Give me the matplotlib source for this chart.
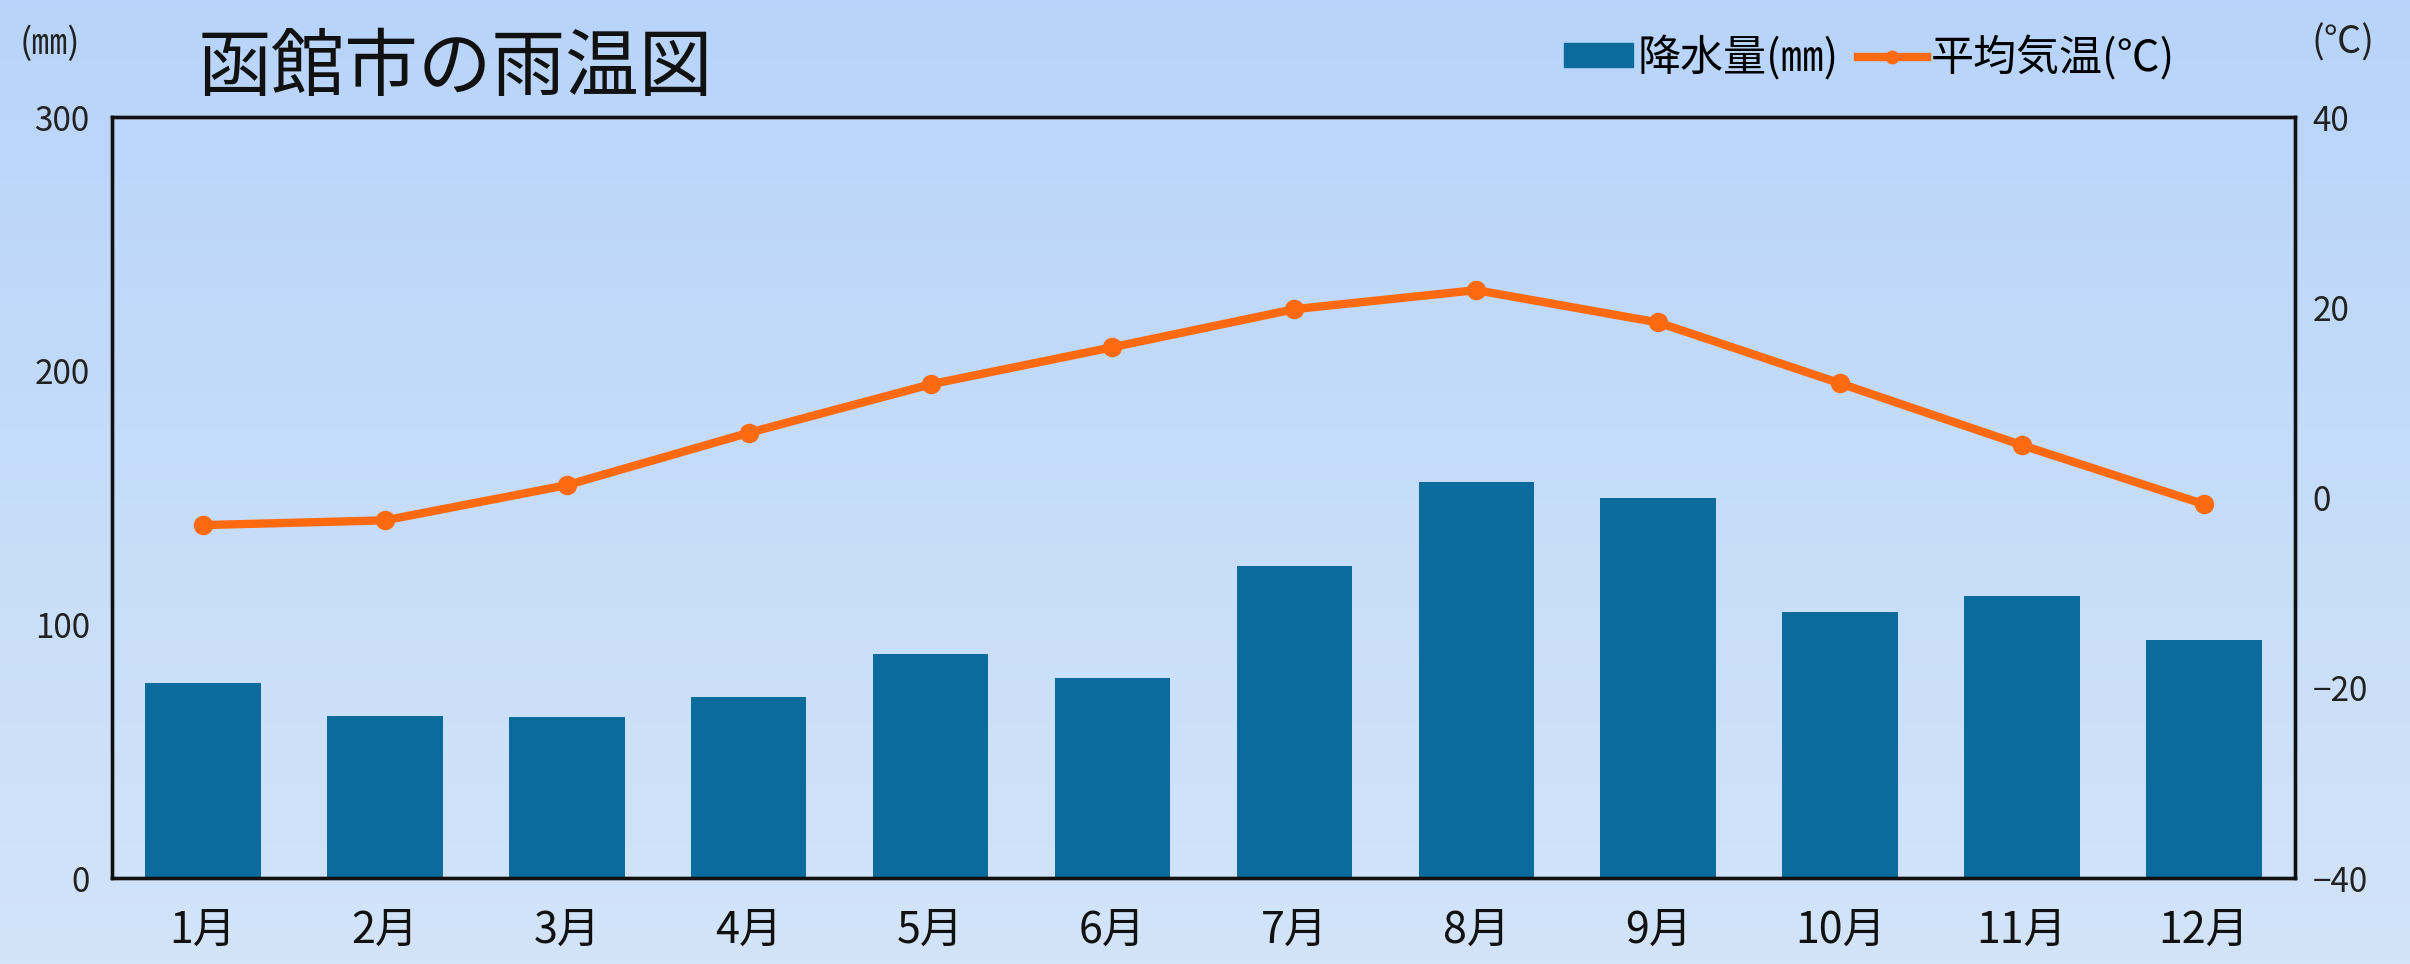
import numpy as np
import matplotlib
matplotlib.use("Agg")
import matplotlib.pyplot as plt
from matplotlib.patches import Patch
from matplotlib.lines import Line2D

plt.rcParams['font.family'] = ['Noto Sans CJK JP', 'DejaVu Sans']

months = ["1月", "2月", "3月", "4月", "5月", "6月", "7月", "8月", "9月", "10月", "11月", "12月"]
precip = [77, 64, 63.5, 71.5, 88.5, 79, 123, 156, 150, 105, 111, 94]
temp = [-2.9, -2.4, 1.3, 6.8, 11.9, 15.8, 19.8, 21.8, 18.4, 12.0, 5.5, -0.7]
left_ticks = [0, 100, 200, 300]
right_ticks = [-40, -20, 0, 20, 40]

bar_color = "#0a6b9c"
line_color = "#ff6a10"

fig = plt.figure(figsize=(24.1, 9.64), dpi=100)

# background gradient
bg = fig.add_axes([0, 0, 1, 1], zorder=-10)
top = np.array([184, 212, 250]) / 255
bot = np.array([211, 228, 248]) / 255
t = np.linspace(0, 1, 256)[:, None]
grad = top[None, :] * (1 - t) + bot[None, :] * t
bg.imshow(grad[:, None, :], aspect='auto', extent=[0, 1, 0, 1])
bg.axis('off')

ax = fig.add_axes([0.0465, 0.0892, 0.9057, 0.7894])
ax.set_facecolor('none')
x = np.arange(len(months))
ax.bar(x, precip, width=0.635, color=bar_color, zorder=2)
ax.set_xlim(-0.5, len(months) - 0.5)
ax.set_ylim(0, 300)
ax.set_yticks(left_ticks)
ax.set_xticks(x)
ax.set_xticklabels(months)
ax.tick_params(axis='y', length=0, pad=16, labelsize=24, labelcolor='#222222')
ax.tick_params(axis='x', length=0, pad=22, labelsize=31, labelcolor='#111111')
for s in ax.spines.values():
    s.set_linewidth(2.4)
    s.set_color('#111111')

ax2 = ax.twinx()
ax2.plot(x, temp, color=line_color, lw=6, marker='o', markersize=13, zorder=3)
ax2.set_ylim(-40, 40)
ax2.set_yticks(right_ticks)
ax2.set_yticklabels([str(v).replace('-', '−') for v in right_ticks])
ax2.tick_params(axis='y', length=0, pad=13, labelsize=24, labelcolor='#222222')
for s in ax2.spines.values():
    s.set_linewidth(2.4)
    s.set_color('#111111')

fig.text(0.082, 0.928, "函館市の雨温図", fontsize=53, va='center', ha='left', color='#111111')
fig.text(0.008, 0.955, "(㎜)", fontsize=26, va='center', ha='left', color='#222222')
fig.text(0.959, 0.955, "(℃)", fontsize=27, va='center', ha='left', color='#222222')

handles = [Patch(color=bar_color), Line2D([0], [0], color=line_color, lw=6, marker='o', markersize=9)]
fig.legend(handles, ["降水量(㎜)", "平均気温(℃)"], loc='center left',
           bbox_to_anchor=(0.649, 0.94), ncol=2, frameon=False, fontsize=31,
           handlelength=1.6, handletextpad=0.1, columnspacing=0.45, handleheight=0.5,
           borderpad=0, borderaxespad=0)

fig.savefig("out.png", dpi=100)
